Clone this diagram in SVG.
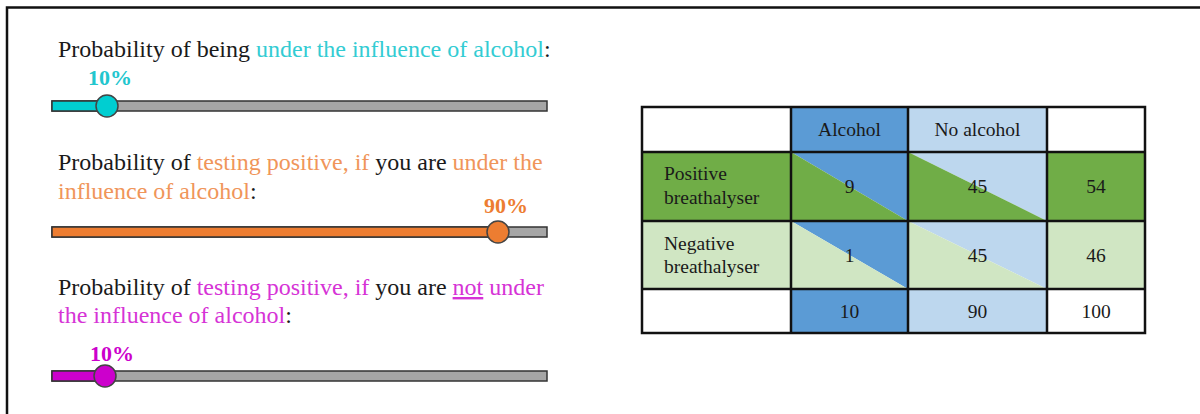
<svg xmlns="http://www.w3.org/2000/svg" width="1200" height="414" viewBox="0 0 1200 414">
<style>
text{font-family:"Liberation Serif","Times New Roman",serif;}
.t{font-size:24px;fill:#1a1a1a;}
.pct{font-size:22px;font-weight:bold;}
.cy{fill:#33CCD3;}
.or{fill:#F0955A;}
.mg{fill:#D633D6;}
.bar{stroke:#333;stroke-width:1.5;}
.thumb{stroke:#444;stroke-width:1.5;}
.cell{font-size:19.5px;fill:#1a1a1a;}
.grid{fill:none;stroke:#111;stroke-width:2.5;}
</style>
<rect width="1200" height="414" fill="#fff"/>
<rect x="7" y="7.5" width="1300" height="500" fill="none" stroke="#111" stroke-width="2.5"/>

<g id="slider1">
<text class="t" x="58" y="57">Probability of being <tspan class="cy">under the influence of alcohol</tspan>:</text>
<text class="pct cy" x="88" y="85" style="fill:#22C6CE">10%</text>
<rect class="bar" x="52" y="101" width="495" height="10" fill="#A6A6A6"/>
<rect class="bar" x="52" y="101" width="55" height="10" fill="#00CED1"/>
<circle class="thumb" cx="107" cy="106" r="11" fill="#00CED1"/>
</g>

<g id="slider2">
<text class="t" x="58" y="170">Probability of <tspan class="or">testing positive, if</tspan> you are <tspan class="or">under the</tspan></text>
<text class="t" x="58" y="199"><tspan class="or">influence of alcohol</tspan>:</text>
<text class="pct" x="484" y="213" style="fill:#ED7D31">90%</text>
<rect class="bar" x="52" y="227" width="495" height="10" fill="#A6A6A6"/>
<rect class="bar" x="52" y="227" width="446" height="10" fill="#ED7D31"/>
<circle class="thumb" cx="498" cy="232" r="11" fill="#ED7D31"/>
</g>

<g id="slider3">
<text class="t" x="58" y="295">Probability of <tspan class="mg">testing positive, if</tspan> you are <tspan class="mg" text-decoration="underline">not</tspan> <tspan class="mg">under</tspan></text>
<text class="t" x="58" y="323"><tspan class="mg">the influence of alcohol</tspan>:</text>
<text class="pct" x="90" y="361" style="fill:#CC00CC">10%</text>
<rect class="bar" x="52" y="371" width="495" height="10" fill="#A6A6A6"/>
<rect class="bar" x="52" y="371" width="53" height="10" fill="#CC00CC"/>
<circle class="thumb" cx="105" cy="376" r="11" fill="#CC00CC"/>
</g>

<g id="table">
<g id="row-header">
<rect x="642" y="107" width="149" height="45" fill="#fff"/>
<rect x="791" y="107" width="117" height="45" fill="#5B9BD5"/>
<rect x="908" y="107" width="139" height="45" fill="#BDD7EE"/>
<rect x="1047" y="107" width="98" height="45" fill="#fff"/>
<text class="cell" x="849.5" y="136" text-anchor="middle">Alcohol</text>
<text class="cell" x="977.5" y="136" text-anchor="middle">No alcohol</text>
</g>
<g id="row-positive">
<rect x="642" y="152" width="149" height="69" fill="#70AD47"/>
<polygon points="791,152 908,152 908,221" fill="#5B9BD5"/>
<polygon points="791,152 791,221 908,221" fill="#70AD47"/>
<polygon points="908,152 1047,152 1047,221" fill="#BDD7EE"/>
<polygon points="908,152 908,221 1047,221" fill="#70AD47"/>
<rect x="1047" y="152" width="98" height="69" fill="#70AD47"/>
<text class="cell" x="664" y="180">Positive</text>
<text class="cell" x="664" y="204">breathalyser</text>
<text class="cell" x="849.5" y="193" text-anchor="middle">9</text>
<text class="cell" x="977.5" y="193" text-anchor="middle">45</text>
<text class="cell" x="1096" y="193" text-anchor="middle">54</text>
</g>
<g id="row-negative">
<rect x="642" y="221" width="149" height="68" fill="#D0E6C3"/>
<polygon points="791,221 908,221 908,289" fill="#5B9BD5"/>
<polygon points="791,221 791,289 908,289" fill="#D0E6C3"/>
<polygon points="908,221 1047,221 1047,289" fill="#BDD7EE"/>
<polygon points="908,221 908,289 1047,289" fill="#D0E6C3"/>
<rect x="1047" y="221" width="98" height="68" fill="#D0E6C3"/>
<text class="cell" x="664" y="250">Negative</text>
<text class="cell" x="664" y="273">breathalyser</text>
<text class="cell" x="849.5" y="262" text-anchor="middle">1</text>
<text class="cell" x="977.5" y="262" text-anchor="middle">45</text>
<text class="cell" x="1096" y="262" text-anchor="middle">46</text>
</g>
<g id="row-total">
<rect x="642" y="289" width="149" height="44" fill="#fff"/>
<rect x="791" y="289" width="117" height="44" fill="#5B9BD5"/>
<rect x="908" y="289" width="139" height="44" fill="#BDD7EE"/>
<rect x="1047" y="289" width="98" height="44" fill="#fff"/>
<text class="cell" x="849.5" y="318" text-anchor="middle">10</text>
<text class="cell" x="977.5" y="318" text-anchor="middle">90</text>
<text class="cell" x="1096" y="318" text-anchor="middle">100</text>
</g>
<g id="grid">
<rect class="grid" x="642" y="107" width="503" height="226"/>
<path class="grid" d="M642 152H1145M642 221H1145M642 289H1145M791 107V333M908 107V333M1047 107V333"/>
</g>
</g>
</svg>
